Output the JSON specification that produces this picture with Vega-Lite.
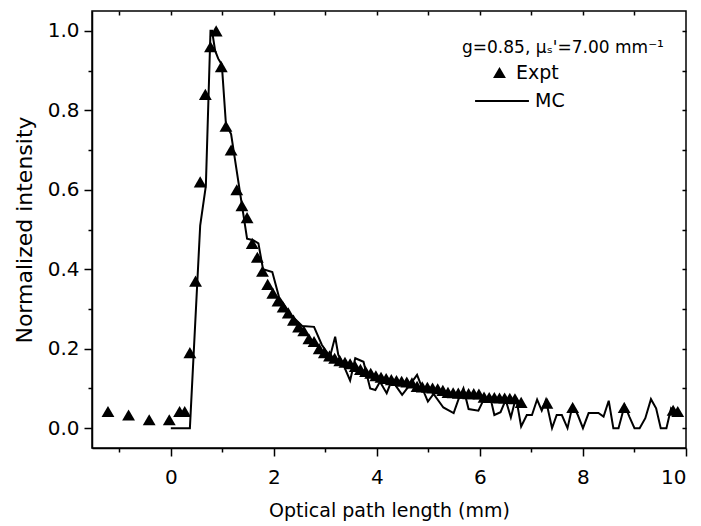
{
  "$schema": "https://vega.github.io/schema/vega-lite/v6.json",
  "width": 594,
  "height": 437,
  "autosize": {"type": "none"},
  "padding": {"left": 92, "top": 11, "right": 15, "bottom": 78},
  "background": "white",
  "config": {
    "font": "DejaVu Sans",
    "view": {"stroke": "black", "strokeWidth": 1.5},
    "axis": {
      "grid": false,
      "domainColor": "black",
      "domainWidth": 1.5,
      "tickColor": "black",
      "tickWidth": 1.5,
      "labelColor": "black",
      "titleColor": "black",
      "labelFont": "DejaVu Sans",
      "titleFont": "DejaVu Sans",
      "titleFontWeight": "normal"
    }
  },
  "datasets": {
    "expt": [
      {"x": -1.22, "y": 0.042, "series": "Expt"},
      {"x": -0.82, "y": 0.033, "series": "Expt"},
      {"x": -0.42, "y": 0.021, "series": "Expt"},
      {"x": -0.03, "y": 0.021, "series": "Expt"},
      {"x": 0.17, "y": 0.042, "series": "Expt"},
      {"x": 0.27, "y": 0.042, "series": "Expt"},
      {"x": 0.37, "y": 0.19, "series": "Expt"},
      {"x": 0.48, "y": 0.37, "series": "Expt"},
      {"x": 0.57, "y": 0.62, "series": "Expt"},
      {"x": 0.67, "y": 0.84, "series": "Expt"},
      {"x": 0.77, "y": 0.96, "series": "Expt"},
      {"x": 0.88, "y": 1.0, "series": "Expt"},
      {"x": 0.98, "y": 0.91, "series": "Expt"},
      {"x": 1.07, "y": 0.76, "series": "Expt"},
      {"x": 1.17, "y": 0.70, "series": "Expt"},
      {"x": 1.28, "y": 0.60, "series": "Expt"},
      {"x": 1.38, "y": 0.56, "series": "Expt"},
      {"x": 1.48, "y": 0.53, "series": "Expt"},
      {"x": 1.58, "y": 0.465, "series": "Expt"},
      {"x": 1.68, "y": 0.43, "series": "Expt"},
      {"x": 1.78, "y": 0.395, "series": "Expt"},
      {"x": 1.88, "y": 0.362, "series": "Expt"},
      {"x": 1.98, "y": 0.34, "series": "Expt"},
      {"x": 2.08, "y": 0.32, "series": "Expt"},
      {"x": 2.18, "y": 0.305, "series": "Expt"},
      {"x": 2.28, "y": 0.29, "series": "Expt"},
      {"x": 2.38, "y": 0.272, "series": "Expt"},
      {"x": 2.48, "y": 0.255, "series": "Expt"},
      {"x": 2.58, "y": 0.245, "series": "Expt"},
      {"x": 2.68, "y": 0.225, "series": "Expt"},
      {"x": 2.78, "y": 0.218, "series": "Expt"},
      {"x": 2.88, "y": 0.2, "series": "Expt"},
      {"x": 2.98, "y": 0.19, "series": "Expt"},
      {"x": 3.08, "y": 0.182, "series": "Expt"},
      {"x": 3.18, "y": 0.176, "series": "Expt"},
      {"x": 3.28, "y": 0.17, "series": "Expt"},
      {"x": 3.38, "y": 0.166, "series": "Expt"},
      {"x": 3.48, "y": 0.162, "series": "Expt"},
      {"x": 3.58, "y": 0.155, "series": "Expt"},
      {"x": 3.68, "y": 0.148, "series": "Expt"},
      {"x": 3.78, "y": 0.143, "series": "Expt"},
      {"x": 3.88, "y": 0.138, "series": "Expt"},
      {"x": 3.98, "y": 0.132, "series": "Expt"},
      {"x": 4.08, "y": 0.128, "series": "Expt"},
      {"x": 4.18, "y": 0.125, "series": "Expt"},
      {"x": 4.28, "y": 0.122, "series": "Expt"},
      {"x": 4.38, "y": 0.12, "series": "Expt"},
      {"x": 4.48, "y": 0.118, "series": "Expt"},
      {"x": 4.58, "y": 0.116, "series": "Expt"},
      {"x": 4.68, "y": 0.114, "series": "Expt"},
      {"x": 4.78, "y": 0.105, "series": "Expt"},
      {"x": 4.88, "y": 0.104, "series": "Expt"},
      {"x": 4.98, "y": 0.103, "series": "Expt"},
      {"x": 5.08, "y": 0.101, "series": "Expt"},
      {"x": 5.18, "y": 0.099, "series": "Expt"},
      {"x": 5.28, "y": 0.095, "series": "Expt"},
      {"x": 5.38, "y": 0.09, "series": "Expt"},
      {"x": 5.48, "y": 0.089, "series": "Expt"},
      {"x": 5.58, "y": 0.088, "series": "Expt"},
      {"x": 5.68, "y": 0.088, "series": "Expt"},
      {"x": 5.78, "y": 0.087, "series": "Expt"},
      {"x": 5.88, "y": 0.087, "series": "Expt"},
      {"x": 5.98, "y": 0.086, "series": "Expt"},
      {"x": 6.08, "y": 0.078, "series": "Expt"},
      {"x": 6.18, "y": 0.077, "series": "Expt"},
      {"x": 6.28, "y": 0.077, "series": "Expt"},
      {"x": 6.38, "y": 0.076, "series": "Expt"},
      {"x": 6.48, "y": 0.076, "series": "Expt"},
      {"x": 6.58, "y": 0.075, "series": "Expt"},
      {"x": 6.68, "y": 0.074, "series": "Expt"},
      {"x": 6.8, "y": 0.065, "series": "Expt"},
      {"x": 7.3, "y": 0.063, "series": "Expt"},
      {"x": 7.8, "y": 0.052, "series": "Expt"},
      {"x": 8.8, "y": 0.052, "series": "Expt"},
      {"x": 9.75, "y": 0.045, "series": "Expt"},
      {"x": 9.84, "y": 0.042, "series": "Expt"}
    ],
    "mc": [
      {"x": 0.0, "y": 0.0, "series": "MC"},
      {"x": 0.37, "y": 0.0, "series": "MC"},
      {"x": 0.57, "y": 0.51, "series": "MC"},
      {"x": 0.68, "y": 0.61, "series": "MC"},
      {"x": 0.77, "y": 1.0, "series": "MC"},
      {"x": 0.8, "y": 1.0, "series": "MC"},
      {"x": 0.86, "y": 0.95, "series": "MC"},
      {"x": 0.92, "y": 0.93, "series": "MC"},
      {"x": 0.99, "y": 0.915, "series": "MC"},
      {"x": 1.07, "y": 0.765, "series": "MC"},
      {"x": 1.17, "y": 0.74, "series": "MC"},
      {"x": 1.48, "y": 0.477, "series": "MC"},
      {"x": 1.6, "y": 0.473, "series": "MC"},
      {"x": 1.7, "y": 0.465, "series": "MC"},
      {"x": 1.79, "y": 0.4, "series": "MC"},
      {"x": 1.97, "y": 0.393, "series": "MC"},
      {"x": 2.1, "y": 0.33, "series": "MC"},
      {"x": 2.33, "y": 0.285, "series": "MC"},
      {"x": 2.55, "y": 0.257, "series": "MC"},
      {"x": 2.78, "y": 0.255, "series": "MC"},
      {"x": 2.93, "y": 0.21, "series": "MC"},
      {"x": 3.09, "y": 0.18, "series": "MC"},
      {"x": 3.19, "y": 0.23, "series": "MC"},
      {"x": 3.25, "y": 0.185, "series": "MC"},
      {"x": 3.35, "y": 0.159, "series": "MC"},
      {"x": 3.48, "y": 0.12, "series": "MC"},
      {"x": 3.58, "y": 0.176, "series": "MC"},
      {"x": 3.74, "y": 0.167, "series": "MC"},
      {"x": 3.87, "y": 0.1, "series": "MC"},
      {"x": 3.97, "y": 0.096, "series": "MC"},
      {"x": 4.06, "y": 0.117, "series": "MC"},
      {"x": 4.19, "y": 0.088, "series": "MC"},
      {"x": 4.29, "y": 0.121, "series": "MC"},
      {"x": 4.49, "y": 0.084, "series": "MC"},
      {"x": 4.61, "y": 0.104, "series": "MC"},
      {"x": 4.78, "y": 0.134, "series": "MC"},
      {"x": 4.87, "y": 0.104, "series": "MC"},
      {"x": 4.99, "y": 0.067, "series": "MC"},
      {"x": 5.1, "y": 0.086, "series": "MC"},
      {"x": 5.29, "y": 0.052, "series": "MC"},
      {"x": 5.49, "y": 0.038, "series": "MC"},
      {"x": 5.58, "y": 0.071, "series": "MC"},
      {"x": 5.68, "y": 0.1, "series": "MC"},
      {"x": 5.78, "y": 0.048, "series": "MC"},
      {"x": 5.97, "y": 0.044, "series": "MC"},
      {"x": 6.07, "y": 0.071, "series": "MC"},
      {"x": 6.2, "y": 0.078, "series": "MC"},
      {"x": 6.28, "y": 0.033, "series": "MC"},
      {"x": 6.4, "y": 0.04, "series": "MC"},
      {"x": 6.5, "y": 0.071, "series": "MC"},
      {"x": 6.6, "y": 0.027, "series": "MC"},
      {"x": 6.7, "y": 0.078, "series": "MC"},
      {"x": 6.8, "y": 0.004, "series": "MC"},
      {"x": 6.91, "y": 0.033, "series": "MC"},
      {"x": 7.01, "y": 0.033, "series": "MC"},
      {"x": 7.11, "y": 0.072, "series": "MC"},
      {"x": 7.2, "y": 0.044, "series": "MC"},
      {"x": 7.28, "y": 0.071, "series": "MC"},
      {"x": 7.4, "y": 0.0, "series": "MC"},
      {"x": 7.49, "y": 0.033, "series": "MC"},
      {"x": 7.59, "y": 0.033, "series": "MC"},
      {"x": 7.7, "y": 0.0, "series": "MC"},
      {"x": 7.8, "y": 0.058, "series": "MC"},
      {"x": 7.9, "y": 0.033, "series": "MC"},
      {"x": 8.0, "y": 0.0, "series": "MC"},
      {"x": 8.11, "y": 0.038, "series": "MC"},
      {"x": 8.3, "y": 0.038, "series": "MC"},
      {"x": 8.4, "y": 0.029, "series": "MC"},
      {"x": 8.5, "y": 0.069, "series": "MC"},
      {"x": 8.59, "y": 0.0, "series": "MC"},
      {"x": 8.69, "y": 0.0, "series": "MC"},
      {"x": 8.81, "y": 0.058, "series": "MC"},
      {"x": 8.9, "y": 0.029, "series": "MC"},
      {"x": 9.0, "y": 0.0, "series": "MC"},
      {"x": 9.1, "y": 0.0, "series": "MC"},
      {"x": 9.21, "y": 0.025, "series": "MC"},
      {"x": 9.32, "y": 0.073, "series": "MC"},
      {"x": 9.42, "y": 0.05, "series": "MC"},
      {"x": 9.51, "y": 0.0, "series": "MC"},
      {"x": 9.62, "y": 0.0, "series": "MC"},
      {"x": 9.71, "y": 0.05, "series": "MC"},
      {"x": 9.79, "y": 0.038, "series": "MC"},
      {"x": 9.92, "y": 0.033, "series": "MC"}
    ]
  },
  "layer": [
    {
      "data": {"name": "mc"},
      "mark": {"type": "line", "strokeWidth": 2},
      "encoding": {
        "x": {
          "field": "x", "type": "quantitative",
          "scale": {"domain": [-1.53, 10], "nice": false, "zero": false},
          "axis": {"orient": "bottom", "values": [-1, 1, 3, 5, 7, 9], "tickSize": 4, "labels": false, "domain": false, "title": null}
        },
        "y": {
          "field": "y", "type": "quantitative",
          "scale": {"domain": [-0.05, 1.05], "nice": false, "zero": false},
          "axis": {"orient": "left", "values": [0.1, 0.3, 0.5, 0.7, 0.9], "tickSize": 4, "labels": false, "domain": false, "title": null}
        },
        "color": {
          "field": "series", "type": "nominal",
          "scale": {"domain": ["MC"], "range": ["black"]},
          "legend": {
            "orient": "none", "legendX": 382, "legendY": 62, "title": null,
            "symbolType": "stroke", "symbolSize": 2900, "symbolStrokeWidth": 2, "symbolStrokeColor": "black",
            "labelFontSize": 19, "labelColor": "black", "labelOffset": 5
          }
        }
      }
    },
    {
      "data": {"name": "mc"},
      "mark": {"type": "point", "opacity": 0},
      "encoding": {
        "x": {
          "field": "x", "type": "quantitative",
          "axis": {"orient": "top", "values": [-1, 0, 1, 2, 3, 4, 5, 6, 7, 8, 9], "tickSize": -4, "labels": false, "domain": false, "title": null}
        },
        "y": {
          "field": "y", "type": "quantitative",
          "axis": {"orient": "right", "values": [0, 0.1, 0.2, 0.3, 0.4, 0.5, 0.6, 0.7, 0.8, 0.9, 1.0], "tickSize": -4, "labels": false, "domain": false, "title": null}
        }
      }
    },
    {
      "data": {"name": "expt"},
      "mark": {"type": "point", "filled": true, "color": "black", "opacity": 1, "size": 165},
      "encoding": {
        "x": {
          "field": "x", "type": "quantitative",
          "axis": {"orient": "bottom", "values": [0, 2, 4, 6, 8, 10], "format": "d", "tickSize": 8, "labelFontSize": 20, "labelPadding": 11, "title": "Optical path length (mm)", "titleFontSize": 19, "titlePadding": 14}
        },
        "y": {
          "field": "y", "type": "quantitative",
          "axis": {"orient": "left", "values": [0, 0.2, 0.4, 0.6, 0.8, 1.0], "format": ".1f", "tickSize": 8, "labelFontSize": 20, "labelPadding": 5, "title": "Normalized intensity", "titleFontSize": 22, "titlePadding": 11}
        },
        "shape": {
          "field": "series", "type": "nominal",
          "scale": {"domain": ["Expt"], "range": ["triangle-up"]},
          "legend": {
            "orient": "none", "legendX": 370, "legendY": 29,
            "title": "g=0.85, μₛ'=7.00 mm⁻¹", "titleLimit": 400,
            "titleFontSize": 17, "titleFontWeight": "normal", "titleColor": "black",
            "labelFontSize": 19, "labelColor": "black",
            "symbolSize": 165, "symbolOffset": 28, "labelOffset": 7,
            "symbolFillColor": "black", "symbolOpacity": 1,
            "titlePadding": 6
          }
        }
      }
    }
  ],
  "resolve": {"axis": {"x": "independent", "y": "independent"}}
}
